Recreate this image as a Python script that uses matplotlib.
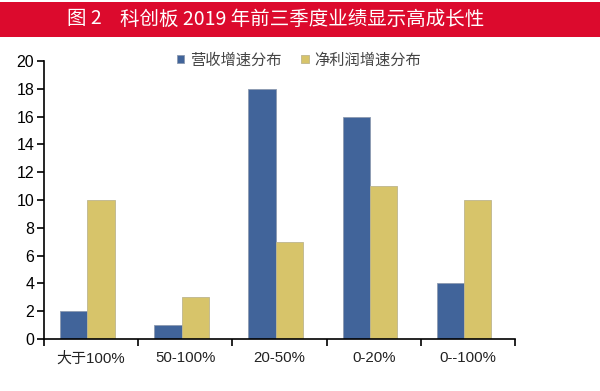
import matplotlib
matplotlib.use("Agg")
import matplotlib.pyplot as plt
import matplotlib.patches as mpatches
import numpy as np

plt.rcParams['font.family'] = ['Liberation Sans', 'Noto Sans CJK SC', 'DejaVu Sans']

# --- data ---
categories = ['大于100%', '50-100%', '20-50%', '0-20%', '0--100%']
revenue = [2, 1, 18, 16, 4]
profit = [10, 3, 7, 11, 10]
series_names = ['营收增速分布', '净利润增速分布']
title_num = '图 2'
title = '科创板 2019 年前三季度业绩显示高成长性'

blue = '#41649A'
yellow = '#D7C46A'

fig = plt.figure(figsize=(6, 3.91), dpi=100)

# red title banner
fig.patches.append(mpatches.Rectangle((0, 1 - 37 / 391), 1, 35 / 391,
                                      transform=fig.transFigure,
                                      facecolor='#DC0A2D', edgecolor='none'))
cjk = ['Noto Sans CJK SC', 'DejaVu Sans']
fig.text(67 / 600, 1 - 19 / 391, title_num, color='white', fontsize=14,
         ha='left', va='center', family=cjk)
fig.text(120 / 600, 1 - 19 / 391, title, color='white', fontsize=14,
         ha='left', va='center', family=cjk)

ax = fig.add_axes([44 / 600, 1 - 339 / 391, 471 / 600, 278 / 391])

x = np.arange(len(categories))
w = 0.29
ax.bar(x - w / 2 - 0.04, revenue, w, color=blue, edgecolor='#8C9AB0',
       linewidth=0.6, label=series_names[0])
ax.bar(x + w / 2 - 0.04, profit, w, color=yellow, edgecolor='#BDB58E',
       linewidth=0.6, label=series_names[1])

ax.set_xlim(-0.5, len(categories) - 0.5)
ax.set_ylim(0, 20)
ax.set_yticks(range(0, 21, 2))

# category separators as major ticks, labels on minor ticks
ax.set_xticks(np.arange(-0.5, len(categories), 1))
ax.set_xticklabels([])
ax.set_xticks(x, minor=True)
ax.set_xticklabels(categories, minor=True, fontsize=10.8,
                   family=['Liberation Sans', 'Noto Sans CJK SC'])
ax.tick_params(axis='x', which='minor', length=0, pad=9, colors='#222222')
ax.tick_params(axis='x', which='major', length=5, width=1.2, direction='out')
ax.tick_params(axis='y', length=5, width=1.2, direction='out', labelsize=11.5, pad=2)

for s in ['top', 'right']:
    ax.spines[s].set_visible(False)
ax.spines['left'].set_linewidth(1.2)
ax.spines['bottom'].set_linewidth(1.2)

leg = fig.legend(loc='center left', bbox_to_anchor=(163 / 600, 1 - 60 / 391),
                 ncol=2, frameon=False, handlelength=0.5,
                 handleheight=0.5, handletextpad=0.35, columnspacing=1.3,
                 prop={'family': cjk, 'size': 11})
for t in leg.get_texts():
    t.set_color('#444444')

fig.savefig('out.png', dpi=100)
